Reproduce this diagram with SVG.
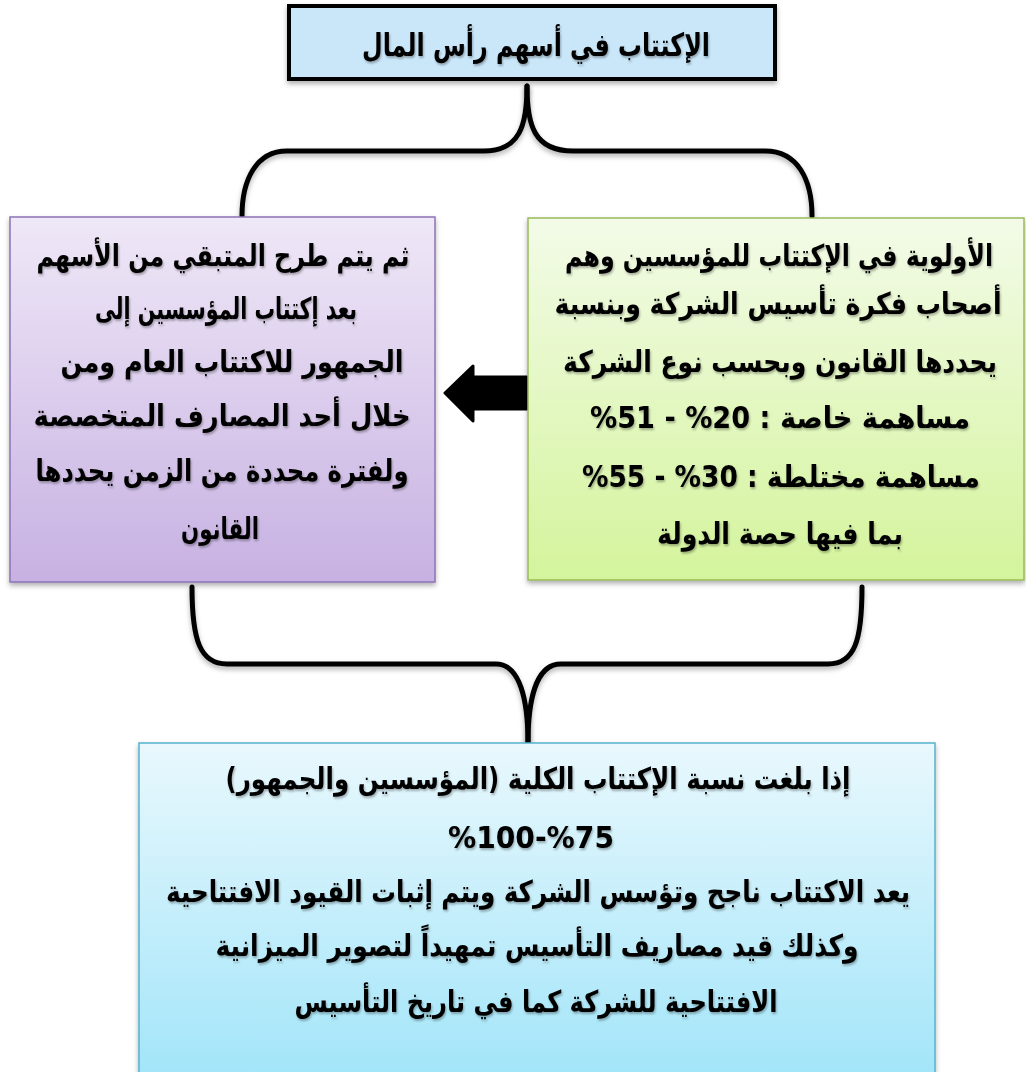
<svg xmlns="http://www.w3.org/2000/svg" width="1026" height="1072" viewBox="0 0 1026 1072">
<style>
.t{font-family:"DejaVu Sans","Liberation Sans",sans-serif;font-weight:bold;font-size:30px;fill:#000;text-anchor:middle;filter:url(#ts)}
.r{direction:rtl;unicode-bidi:embed}
.l{direction:ltr;unicode-bidi:embed}
.brace{fill:none;stroke:#000;stroke-width:5;stroke-linecap:round;stroke-linejoin:round;filter:url(#bs)}
</style>
<defs>
<linearGradient id="gP" x1="0" y1="0" x2="0" y2="1"><stop offset="0" stop-color="#efe8f7"/><stop offset="1" stop-color="#c7b1e2"/></linearGradient>
<linearGradient id="gG" x1="0" y1="0" x2="0" y2="1"><stop offset="0" stop-color="#f3fbe8"/><stop offset="1" stop-color="#d4f49c"/></linearGradient>
<linearGradient id="gB" x1="0" y1="0" x2="0" y2="1"><stop offset="0" stop-color="#e9f8fd"/><stop offset="1" stop-color="#a2e5f9"/></linearGradient>
<filter id="bs" x="-10%" y="-10%" width="120%" height="130%"><feDropShadow dx="0" dy="3" stdDeviation="2.5" flood-color="#000" flood-opacity="0.3"/></filter>
<filter id="ts" x="-5%" y="-30%" width="110%" height="160%"><feDropShadow dx="1" dy="2" stdDeviation="1.2" flood-color="#000" flood-opacity="0.3"/></filter>
</defs>

<g id="connectors">
<path class="brace" d="M527,86 C527,125 520,151 484,151 L287,151 C256,151 242,180 242,216"/>
<path class="brace" d="M527,86 C527,125 534,151 573,151 L765,151 C798,151 812,180 812,216"/>
<path class="brace" d="M192,587 C192,640 200,664 227,664 L496,664 C520,664 528,700 528,743"/>
<path class="brace" d="M862,587 C862,640 855,664 828,664 L561,664 C536,664 528,700 528,743"/>
<path id="arrow" d="M445,393 L473,366 L473,377 L527,377 L527,409 L473,409 L473,421 Z" fill="#000" stroke="#000" stroke-width="3" stroke-linejoin="round"/>
</g>

<g id="node-top">
<rect x="289" y="6" width="486" height="73" fill="#cae7fa" stroke="#000" stroke-width="4" filter="url(#bs)"/>
<text class="t r" x="536" y="56" textLength="348" lengthAdjust="spacingAndGlyphs" style="font-size:32px">الإكتتاب في أسهم رأس المال</text>
</g>

<g id="node-left">
<rect x="10" y="217" width="425" height="365" fill="url(#gP)" stroke="#8c73b5" stroke-width="1.5" filter="url(#bs)"/>
<text class="t r" x="223" y="266" textLength="373" lengthAdjust="spacingAndGlyphs">ثم يتم طرح المتبقي من الأسهم</text>
<text class="t r" x="226" y="319" textLength="262" lengthAdjust="spacingAndGlyphs">بعد إكتتاب المؤسسين إلى</text>
<text class="t r" x="232" y="372" textLength="343" lengthAdjust="spacingAndGlyphs">الجمهور للاكتتاب العام ومن</text>
<text class="t r" x="222" y="426" textLength="377" lengthAdjust="spacingAndGlyphs">خلال أحد المصارف المتخصصة</text>
<text class="t r" x="222" y="481" textLength="373" lengthAdjust="spacingAndGlyphs">ولفترة محددة من الزمن يحددها</text>
<text class="t r" x="220" y="539" textLength="78" lengthAdjust="spacingAndGlyphs">القانون</text>
</g>

<g id="node-right">
<rect x="528" y="218" width="496" height="362" fill="url(#gG)" stroke="#9bbb59" stroke-width="1.5" filter="url(#bs)"/>
<text class="t r" x="779" y="266" textLength="428" lengthAdjust="spacingAndGlyphs">الأولوية في الإكتتاب للمؤسسين وهم</text>
<text class="t r" x="778" y="314" textLength="447" lengthAdjust="spacingAndGlyphs">أصحاب فكرة تأسيس الشركة  وبنسبة</text>
<text class="t r" x="780" y="372" textLength="434" lengthAdjust="spacingAndGlyphs">يحددها القانون وبحسب نوع الشركة</text>
<text class="t l" x="780" y="428" textLength="380" lengthAdjust="spacingAndGlyphs">%51 - %20 : مساهمة خاصة</text>
<text class="t l" x="781" y="487" textLength="398" lengthAdjust="spacingAndGlyphs">%55 - %30 : مساهمة مختلطة</text>
<text class="t r" x="780" y="544" textLength="246" lengthAdjust="spacingAndGlyphs">بما فيها حصة الدولة</text>
</g>

<g id="node-bottom">
<rect x="139" y="743" width="796" height="335" fill="url(#gB)" stroke="#55b3cd" stroke-width="1.5" filter="url(#bs)"/>
<text class="t r" x="538" y="789" textLength="625" lengthAdjust="spacingAndGlyphs">إذا بلغت نسبة الإكتتاب الكلية (المؤسسين والجمهور)</text>
<text class="t l" x="531" y="848" textLength="166" lengthAdjust="spacingAndGlyphs">%100-%75</text>
<text class="t r" x="538" y="902" textLength="744" lengthAdjust="spacingAndGlyphs">يعد الاكتتاب ناجح وتؤسس الشركة ويتم إثبات القيود الافتتاحية</text>
<text class="t r" x="537" y="956" textLength="643" lengthAdjust="spacingAndGlyphs">وكذلك قيد مصاريف التأسيس تمهيداً لتصوير الميزانية</text>
<text class="t r" x="536" y="1012" textLength="483" lengthAdjust="spacingAndGlyphs">الافتتاحية للشركة كما في تاريخ التأسيس</text>
</g>
</svg>
